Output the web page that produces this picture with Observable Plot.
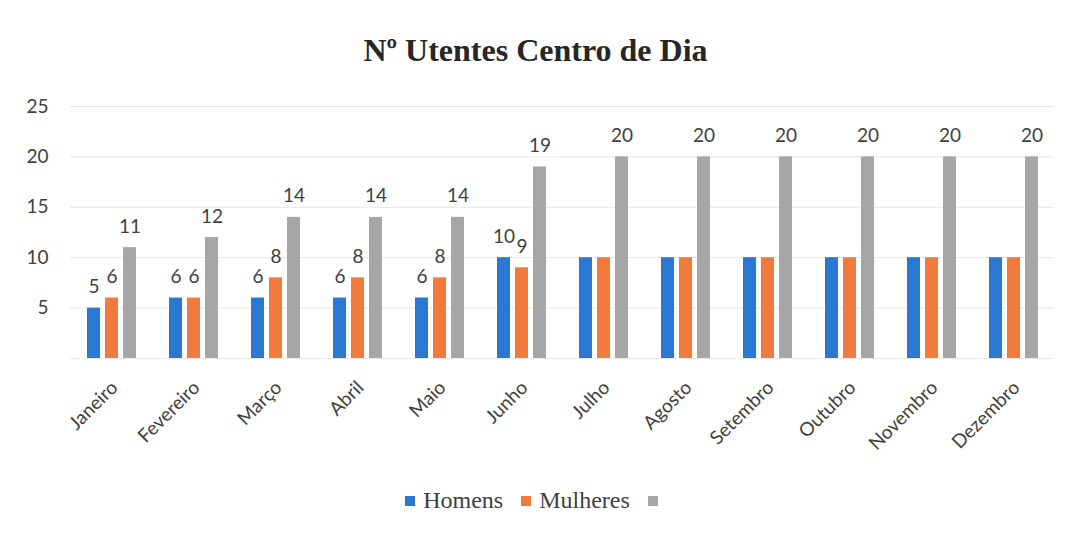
<!DOCTYPE html>
<html>
<head>
<meta charset="utf-8">
<script src="https://cdn.jsdelivr.net/npm/d3@7"></script>
<script src="https://cdn.jsdelivr.net/npm/@observablehq/plot@0.6"></script>
<style>
  html, body { margin: 0; padding: 0; background: #fff; }
  #wrap { position: relative; width: 1091px; height: 539px; overflow: hidden; }
  #title { position: absolute; left: 0; top: 30px; width: 1071px; text-align: center;
    font-family: "Liberation Serif", serif; font-weight: bold; font-size: 32px; color: #262626; line-height: 40px; }
  #chart { position: absolute; left: 0; top: 80px; }
  #legend { position: absolute; left: 0; top: 487px; width: 1071px; display: flex; justify-content: center;
    align-items: center; font-family: "Liberation Serif", serif; font-size: 24px; color: #404040; }
  .item { display: flex; align-items: center; margin: 0 9px; }
  .sw { width: 10px; height: 10px; margin-right: 8px; }
</style>
</head>
<body>
<div id="wrap">
  <div id="title">Nº Utentes Centro de Dia</div>
  <div id="chart"></div>
  <div id="legend"></div>
</div>
<script>
const months = ["Janeiro","Fevereiro","Março","Abril","Maio","Junho","Julho","Agosto","Setembro","Outubro","Novembro","Dezembro"];
const homens   = [5, 6, 6, 6, 6, 10, 10, 10, 10, 10, 10, 10];
const mulheres = [6, 6, 8, 8, 8, 9, 10, 10, 10, 10, 10, 10];
const total    = [11, 12, 14, 14, 14, 19, 20, 20, 20, 20, 20, 20];
const seriesKeys   = ["Homens", "Mulheres", "Total"];
const seriesLabels = ["Homens", "Mulheres", ""];
const seriesColors = ["#2a78d2", "#f07b3c", "#a6a6a6"];
const labelledMonths = [
  ["Janeiro","Fevereiro","Março","Abril","Maio","Junho"],
  ["Janeiro","Fevereiro","Março","Abril","Maio","Junho"],
  months
];
const yTicks = [5, 10, 15, 20, 25];

const values = [homens, mulheres, total];
const rows = [];
months.forEach((m, i) => {
  seriesKeys.forEach((s, j) => {
    rows.push({month: m, series: s, value: values[j][i], label: labelledMonths[j].includes(m)});
  });
});

const chart = Plot.plot({
  width: 1091,
  height: 400,
  marginLeft: 64,
  marginRight: 32,
  marginTop: 26,
  marginBottom: 122,
  style: {fontFamily: "Lato, sans-serif", fontSize: "17px", color: "#404040", background: "transparent"},
  fx: {domain: months, padding: 0, label: null},
  x: {domain: seriesKeys, axis: null, paddingInner: 0.28, paddingOuter: 0.905},
  y: {domain: [0, 25], ticks: yTicks, label: null},
  color: {domain: seriesKeys, range: seriesColors},
  marks: [
    Plot.gridY(yTicks, {stroke: "#e6e6e6", strokeOpacity: 1}),
    Plot.ruleY([0], {stroke: "#ebebeb"}),
    Plot.axisY(yTicks, {tickSize: 0, tickPadding: 22, fontSize: 19, fill: "#404040", label: null}),
    Plot.axisFx({anchor: "bottom", tickRotate: -45, tickSize: 0, tickPadding: 26, dx: 3, fontSize: 19, fill: "#404040", label: null}),
    Plot.barY(rows, {fx: "month", x: "series", y: "value", fill: "series"}),
    Plot.text(rows.filter(d => d.label), {fx: "month", x: "series", y: "value", text: d => String(d.value),
      dy: -21, fontSize: 19, fill: "#404040"})
  ]
});
document.getElementById("chart").appendChild(chart);

const legend = document.getElementById("legend");
seriesKeys.forEach((s, j) => {
  const it = document.createElement("div");
  it.className = "item";
  const sw = document.createElement("span");
  sw.className = "sw";
  sw.style.background = seriesColors[j];
  it.appendChild(sw);
  const t = document.createElement("span");
  t.textContent = seriesLabels[j];
  it.appendChild(t);
  legend.appendChild(it);
});
</script>
</body>
</html>
